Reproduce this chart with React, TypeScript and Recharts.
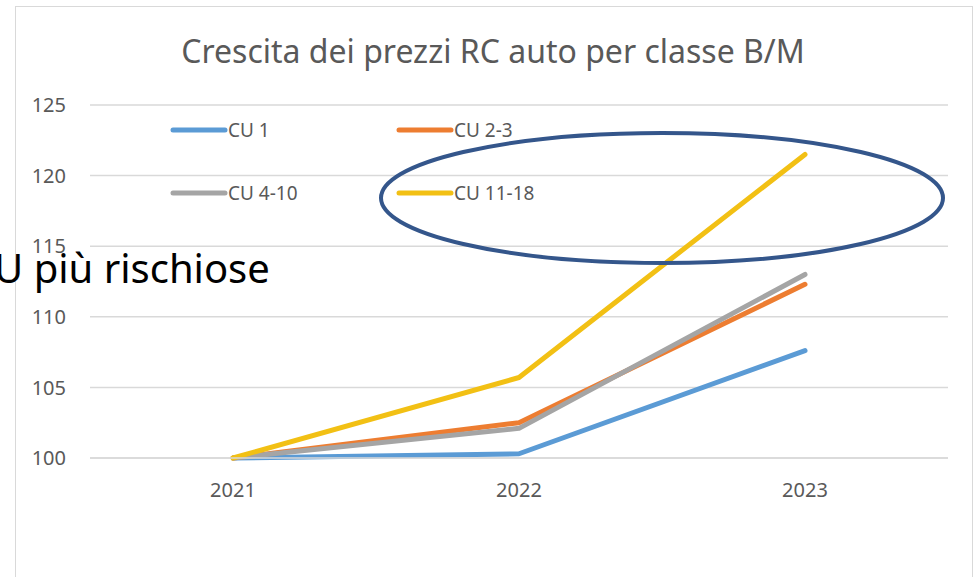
import { LineChart, Line, XAxis, YAxis, CartesianGrid, Legend } from 'recharts';

const years = ['2021', '2022', '2023'];
const cu1 = [100, 100.3, 107.6];
const cu23 = [100, 102.5, 112.3];
const cu410 = [100, 102.1, 113.0];
const cu1118 = [100, 105.7, 121.5];
const yTicks = [100, 105, 110, 115, 120, 125];

const series = [
  { key: 'cu1', name: 'CU 1', color: '#5B9BD5' },
  { key: 'cu23', name: 'CU 2-3', color: '#ED7D31' },
  { key: 'cu410', name: 'CU 4-10', color: '#A5A5A5' },
  { key: 'cu1118', name: 'CU 11-18', color: '#F2C014' },
];

const data = years.map((year, i) => ({
  year,
  cu1: cu1[i],
  cu23: cu23[i],
  cu410: cu410[i],
  cu1118: cu1118[i],
}));

const font = '"Noto Sans", sans-serif';

type LegendProps = {
  payload?: Array<{ value: string; color?: string }>;
};

// keep the series order (Excel fills the legend row by row)
const LegendContent = ({ payload }: LegendProps) => {
  const items = [...(payload || [])].sort(
    (a, b) =>
      series.findIndex((s) => s.name === a.value) - series.findIndex((s) => s.name === b.value)
  );
  return (
    <div
      style={{
        display: 'grid',
        gridTemplateColumns: '226px 200px',
        gridAutoRows: '63px',
        fontFamily: font,
        fontSize: 19,
        color: '#595959',
      }}
    >
      {items.map((p) => (
        <div key={p.value} style={{ display: 'flex', alignItems: 'center' }}>
          <svg width={58} height={8}>
            <line x1={3} y1={4} x2={55} y2={4} stroke={p.color} strokeWidth={5} strokeLinecap="round" />
          </svg>
          <span>{p.value}</span>
        </div>
      ))}
    </div>
  );
};

export default function App() {
  return (
    <div
      style={{
        position: 'absolute',
        left: 0,
        top: 0,
        width: 978,
        height: 577,
        overflow: 'hidden',
        background: '#fff',
      }}
    >
      <div
        style={{
          position: 'absolute',
          left: 15,
          top: 6,
          width: 958,
          height: 620,
          border: '1px solid #D9D9D9',
          boxSizing: 'border-box',
        }}
      />
      <LineChart
        width={978}
        height={577}
        data={data}
        margin={{ top: 105, right: 30, left: 30, bottom: 89 }}
        style={{ position: 'absolute', left: 0, top: 0 }}
      >
        <CartesianGrid vertical={false} stroke="#D9D9D9" strokeWidth={1.5} />
        <XAxis
          dataKey="year"
          padding={{ left: 143, right: 143 }}
          axisLine={{ stroke: '#D9D9D9', strokeWidth: 1.5 }}
          tickLine={false}
          tickSize={6}
          tickMargin={19}
          height={30}
          tick={{ fill: '#595959', fontSize: 20, fontFamily: font }}
        />
        <YAxis
          domain={[100, 125]}
          ticks={yTicks}
          width={60}
          axisLine={false}
          tickLine={false}
          tickSize={6}
          tickMargin={18}
          tick={{ fill: '#595959', fontSize: 20, fontFamily: font }}
        />
        <Legend
          layout="horizontal"
          verticalAlign="middle"
          align="center"
          content={<LegendContent />}
          wrapperStyle={{ top: 98, left: 170, width: 430, height: 126 }}
        />
        {series.map((s) => (
          <Line
            key={s.key}
            type="linear"
            dataKey={s.key}
            name={s.name}
            stroke={s.color}
            strokeWidth={5}
            strokeLinecap="round"
            strokeLinejoin="round"
            dot={false}
            activeDot={false}
            isAnimationActive={false}
          />
        ))}
      </LineChart>
      <svg
        width={978}
        height={577}
        style={{ position: 'absolute', left: 0, top: 0, pointerEvents: 'none' }}
      >
        <text
          x={493}
          y={63}
          textAnchor="middle"
          fontFamily={font}
          fontSize={32}
          fill="#595959"
        >
          Crescita dei prezzi RC auto per classe B/M
        </text>
        <ellipse cx={662} cy={198} rx={281} ry={65} fill="none" stroke="#34568B" strokeWidth={4} />
        <text x={-6} y={283} fontFamily={font} fontSize={40} fill="#000">
          U più rischiose
        </text>
      </svg>
    </div>
  );
}
